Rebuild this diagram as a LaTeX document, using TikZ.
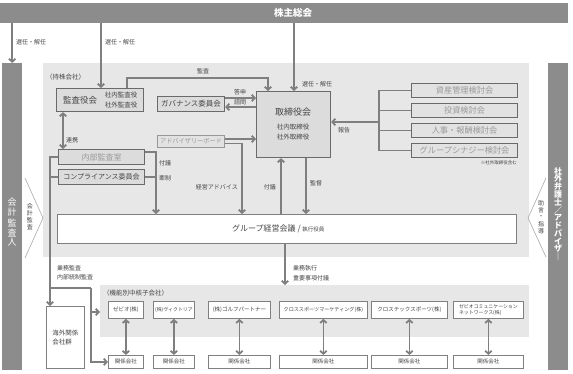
\documentclass[tikz,border=0pt]{standalone}
\usepackage{fontspec}
\setmainfont{Noto Sans CJK JP}
\usepackage{graphicx}
\usetikzlibrary{arrows.meta}
\definecolor{barc}{HTML}{8C8C8C}
\definecolor{regionc}{HTML}{E7E7E7}
\definecolor{boxc}{HTML}{DCDCDC}
\definecolor{cboxc}{HTML}{E2E2E2}
\definecolor{edgec}{HTML}{6A6A6A}
\definecolor{arrc}{HTML}{7F7F7F}
\definecolor{txtc}{HTML}{444444}
\definecolor{lighttxt}{HTML}{9A9A9A}
\definecolor{chevc}{HTML}{AAAAAA}
\newcommand\myfs[2]{\fontsize{#1}{#2}\selectfont\lineskiplimit=-100pt\lineskip=0pt\relax}
\begin{document}
\begin{tikzpicture}[x=1pt,y=-1pt,
  bar/.style={fill=barc, draw=none, anchor=north west, inner sep=0},
  region/.style={fill=regionc, draw=none, anchor=north west, inner sep=0},
  gbox/.style={fill=boxc, draw=edgec, line width=1.1pt, anchor=north west, inner sep=0, text=txtc},
  cbox/.style={fill=cboxc, draw=edgec, line width=1.1pt, anchor=north west, inner sep=0, text=lighttxt,
     minimum width=106pt, minimum height=14pt, font=\myfs{8.2}{9}},
  wbox/.style={fill=white, draw=edgec!85, line width=0.8pt, anchor=north west, inner sep=0, text=txtc},
  cobox/.style={wbox, minimum height=17pt, font=\myfs{5.5}{6}},
  kkbox/.style={wbox, minimum height=13pt, font=\myfs{5.5}{6}},
  lbl/.style={text=txtc, inner sep=0, font=\myfs{6}{7}},
  vch/.style={text=txtc, inner sep=0, font=\myfs{6}{6}},
  ln/.style={draw=arrc, line width=1.8pt},
  arr/.style={ln, -{Straight Barb[length=3pt,width=6.5pt]}},
  arr2/.style={ln, {Straight Barb[length=3pt,width=6.5pt]}-{Straight Barb[length=3pt,width=6.5pt]}},
  chev/.style={draw=chevc, line width=0.6pt}
]
\useasboundingbox (0,0) rectangle (573,373);

% top bar and side bars
\node[bar, minimum width=568pt, minimum height=20pt] (soukai) at (0,3) {};
\node[text=white, inner sep=0, font=\bfseries\myfs{9.5}{10}] at (293,13) {株主総会};
\node[bar, minimum width=20pt, minimum height=307pt] (kaikei) at (2,63) {};
\foreach \c [count=\i] in {会,計,監,査,人}
  \node[text=white, inner sep=0, font=\myfs{9}{9}] (kk-\i) at (12,{202.5+10*(\i-1)}) {\c};
\node[bar, minimum width=20pt, minimum height=307pt] (bengo) at (548,63) {};
\foreach \c [count=\i] in {社,外,弁,護,士,／,ア,ド,バ,イ,ザ,｜}
  \node[text=white, inner sep=0, font=\bfseries\myfs{8}{8}] (bg-\i) at (558,{171+7.8*(\i-1)}) {\c};

% holding company region
\node[region, minimum width=486pt, minimum height=194pt] (hold) at (43,63) {};
\node[lbl, anchor=west, font=\myfs{6.5}{7}] at (46,77) {（持株会社）};

% boxes
\node[gbox, minimum width=87pt, minimum height=23pt] (kansa) at (56,88) {};
\node[text=txtc, inner sep=0, font=\myfs{8.5}{9}] at (80,100) {監査役会};
\node[text=txtc, inner sep=0, align=left, font=\myfs{6.5}{10}] at (121,100) {社内監査役\\社外監査役};

\node[gbox, minimum width=67pt, minimum height=15pt, font=\myfs{7.5}{8}] (gov) at (157,96) {ガバナンス委員会};

\node[gbox, minimum width=74pt, minimum height=66pt] (tori) at (256,91) {};
\node[text=txtc, inner sep=0, font=\myfs{9}{10}] at (293,112) {取締役会};
\node[text=txtc, inner sep=0, align=center, font=\myfs{6.5}{10}] at (293,132) {社内取締役\\社外取締役};

\node[gbox, fill=cboxc, draw=edgec!70, minimum width=67pt, minimum height=12pt, text=lighttxt, font=\myfs{6.2}{7}] (adv) at (157,135) {アドバイザリーボード};

\node[gbox, minimum width=86pt, minimum height=15pt, text=lighttxt, font=\myfs{8}{9}] (naibu) at (58,149) {内部監査室};
\node[gbox, minimum width=86pt, minimum height=15pt, font=\myfs{7}{8}] (comp) at (58,169) {コンプライアンス委員会};

\node[cbox] (c1) at (411,83) {資産管理検討会};
\node[cbox] (c2) at (411,103) {投資検討会};
\node[cbox] (c3) at (411,123) {人事・報酬検討会};
\node[cbox] (c4) at (411,143) {グループシナジー検討会};
\node[lbl, anchor=east, font=\myfs{4.5}{5}] at (517,163) {※社外取締役含む};

\node[wbox, minimum width=459pt, minimum height=29pt] (group) at (57,214) {};
\node[text=txtc, inner sep=0, anchor=west, font=\myfs{8}{9}] at (232,228.5) {グループ経営会議 / {\myfs{5.5}{6}執行役員}};

% subsidiaries region
\node[region, minimum width=429pt, minimum height=52pt] (kino) at (100,285) {};
\node[lbl, anchor=west, font=\myfs{6.5}{7}] at (103,293) {（機能別中核子会社）};

\node[wbox, minimum width=38pt, minimum height=62pt, align=left, font=\myfs{6.5}{9}] (kaigai) at (46,306) {海外関係\\会社群};

\node[cobox, minimum width=35pt] (co1) at (108,301) {ゼビオ(株)};
\node[cobox, minimum width=41pt, font=\myfs{4.9}{6}] (co2) at (153,301) {(株)ヴィクトリア};
\node[cobox, minimum width=62pt] (co3) at (208,301) {(株)ゴルフパートナー};
\node[cobox, minimum width=88pt, font=\myfs{5.1}{6}] (co4) at (279,301) {クロススポーツマーケティング(株)};
\node[cobox, minimum width=76pt] (co5) at (371,301) {クロステックスポーツ(株)};
\node[cobox, minimum width=70pt, align=left, font=\myfs{4.9}{5.5}] (co6) at (453,301) {ゼビオコミュニケーション\\ネットワークス(株)};

\node[kkbox, minimum width=35pt] (kk1) at (108,355) {関係会社};
\node[kkbox, minimum width=41pt] (kk2) at (153,355) {関係会社};
\node[kkbox, minimum width=62pt] (kk3) at (208,355) {関係会社};
\node[kkbox, minimum width=88pt] (kk4) at (279,355) {関係会社};
\node[kkbox, minimum width=76pt] (kk5) at (371,355) {関係会社};
\node[kkbox, minimum width=70pt] (kk6) at (453,355) {関係会社};

% connectors from general meeting
\draw[arr] (soukai.south -| kaikei.north) -- (kaikei.north);
\node[lbl, anchor=west] at (16,42) {選任・解任};
\draw[arr] (soukai.south -| 101,0) -- (kansa.north -| 101,0);
\node[lbl, anchor=west] at (105,42) {選任・解任};
\draw[arr] (soukai.south -| 294,0) -- (tori.north -| 294,0);
\node[lbl, anchor=west] at (302,84) {選任・解任};

% audit
\draw[arr] (kansa.north -| 127,0) -- ++(0,-10) -| (tori.north -| 268,0);
\node[lbl] at (203,71) {監査};

% governance
\draw[arr] (gov.east |- 0,98) -- (tori.west |- 0,98);
\draw[arr] (tori.west |- 0,107) -- (gov.east |- 0,107);
\node[lbl] at (240,92) {答申};
\node[lbl] at (240,102.5) {諮問};

% advisory board
\draw[arr] (adv.east |- 0,139) -- (tori.west |- 0,139);
\draw[arr] (adv.east |- 0,143.5) -| (group.north -| 242,0);
\node[lbl, anchor=east] at (238,187) {経営アドバイス};

% board <-> group meeting
\draw[arr] (group.north -| 281,0) -- (tori.south -| 281,0);
\node[lbl, anchor=east] at (276,187) {付議};
\draw[arr] (tori.south -| 306,0) -- (group.north -| 306,0);
\node[lbl, anchor=west] at (310,183) {監督};

% committees bracket
\coordinate (bx) at (379,0);
\draw[ln] (c1.west) -- (c1.west -| bx) -- (c4.west -| bx) -- (c4.west);
\draw[ln] (c2.west) -- (c2.west -| bx);
\draw[ln] (c3.west) -- (c3.west -| bx);
\draw[arr] (bx |- 0,122) -- (tori.east |- 0,122);
\node[lbl] at (344,130) {報告};

% cooperation
\draw[arr2] (kansa.south -| 63,0) -- (naibu.north -| 63,0);
\node[lbl, anchor=west] at (66,140) {連携};

% internal audit / compliance to group meeting
\draw[arr] (naibu.east |- 0,152) -| (group.north -| 156,0);
\draw[ln] (comp.east) -- (comp.east -| 156,0);
\node[lbl, anchor=west] at (159,163) {付議};
\node[lbl, anchor=west] at (159,178) {牽制};

% internal audit line down the left
\coordinate (lv) at (50,288);
\coordinate (lh) at (91,288);
\draw[ln] (naibu.west) -| (lv);
\draw[ln] (comp.west) -- (comp.west -| lv);
\draw[arr] (lv) -- (kaigai.north -| lv);
\draw[ln] (lv) -- (lh);
\draw[arr] (lh) |- (kk1.west);
\draw[arr] (lh |- 0,312) -- (kino.west |- 0,312);
\node[lbl, anchor=west] at (57,268) {業務監査};
\node[lbl, anchor=west] at (57,277) {内部統制監査};

% execution
\draw[arr] (group.south -| 285,0) -- (kino.north -| 285,0);
\node[lbl, anchor=west] at (293,268) {業務執行};
\node[lbl, anchor=west] at (293,278) {重要事項付議};

% subsidiaries <-> affiliates
\foreach \i in {1,...,6} \draw[arr2] (co\i.south) -- (kk\i.north);

% chevrons
\draw[chev] (25,178) -- (43,218) -- (25,258);
\foreach \c [count=\i] in {会,計,監,査}
  \node[vch] (ka-\i) at (30,{206.5+7*(\i-1)}) {\c};
\draw[chev] (546,178) -- (528,218) -- (546,257);
\foreach \c [count=\i] in {助,言,・,指,導}
  \node[vch] (jo-\i) at (541,{203.5+7*(\i-1)}) {\c};
\end{tikzpicture}
\end{document}
